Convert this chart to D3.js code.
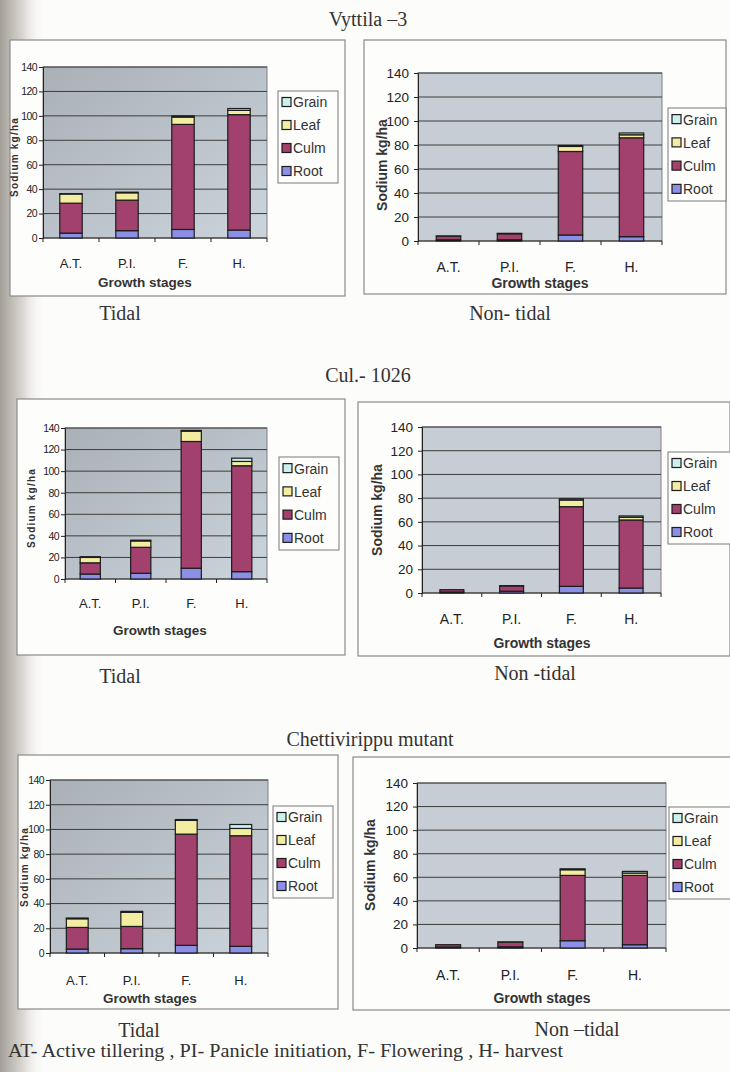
<!DOCTYPE html>
<html>
<head>
<meta charset="utf-8">
<script src="https://cdn.jsdelivr.net/npm/d3@7"></script>
<style>
  body { margin: 0; background: #fcfcfa; }
  svg { display: block; }
</style>
</head>
<body>
<div class="page"></div>
<script>
// Sodium uptake (kg/ha) by plant part across growth stages

var stages = ["A.T.", "P.I.", "F.", "H."];
var parts = ["Root", "Culm", "Leaf", "Grain"];
var yTicks = [0, 20, 40, 60, 80, 100, 120, 140];

// each panel: [root, culm, leaf, grain] per stage (stacked segment sizes)
var vyttilaTidal = [
  [4, 6, 7, 6.5],
  [24.5, 25, 86, 94.5],
  [7.5, 6, 6, 3.5],
  [0.3, 0.5, 1, 1.5]
];
var vyttilaNonTidal = [
  [1, 1, 5, 3.6],
  [3, 5, 69.6, 82.4],
  [0.2, 0.4, 4.2, 2.5],
  [0, 0, 0.8, 1.5]
];
var culTidal = [
  [4.6, 5.3, 10, 6.8],
  [10.4, 24.1, 117.5, 98.2],
  [5, 5.9, 9.5, 4],
  [0.7, 0.7, 0.8, 3]
];
var culNonTidal = [
  [0.8, 1.5, 5.6, 4.2],
  [2, 4.5, 67.2, 57.4],
  [0, 0.2, 5.6, 2.2],
  [0, 0, 1.1, 1.2]
];
var chettiTidal = [
  [3.2, 3.5, 6.2, 5.4],
  [17.5, 18, 90, 89.5],
  [7, 11.4, 11.1, 5.9],
  [0.6, 0.8, 0.7, 3.2]
];
var chettiNonTidal = [
  [0.8, 1, 6.2, 2.8],
  [2, 4, 55.4, 58.8],
  [0, 0.1, 4.8, 2],
  [0, 0, 0.8, 1.4]
];

var colors = {
  Root: "#8b8fe6",
  Culm: "#a2416d",
  Leaf: "#f3eda2",
  Grain: "#c9f1ee"
};

var svgWidth = 730;
var svgHeight = 1072;

var svg = d3.select(".page")
  .append("svg")
  .attr("width", svgWidth)
  .attr("height", svgHeight);

var defs = svg.append("defs");

// scan shadow along the binding edge
var shade = defs.append("linearGradient").attr("id", "shade");
shade.append("stop").attr("offset", "0").attr("stop-color", "#a39e98");
shade.append("stop").attr("offset", "0.5").attr("stop-color", "#d9d6d1");
shade.append("stop").attr("offset", "1").attr("stop-color", "#fcfcfa").attr("stop-opacity", 0);

var plotGrad = defs.append("linearGradient").attr("id", "plotGrad")
  .attr("x1", 0).attr("y1", 0).attr("x2", 1).attr("y2", 1);
plotGrad.append("stop").attr("offset", "0").attr("stop-color", "#a9b0b6");
plotGrad.append("stop").attr("offset", "1").attr("stop-color", "#ccd4dc");

svg.append("rect")
  .attr("x", 0).attr("y", 0)
  .attr("width", 45).attr("height", svgHeight)
  .attr("fill", "url(#shade)");

var serif = "'Liberation Serif', 'Times New Roman', serif";
var sans = "'Liberation Sans', Arial, sans-serif";
var narrow = "'Liberation Sans Narrow', 'Arial Narrow', 'Liberation Sans', sans-serif";

// variety titles
var titles = [
  { text: "Vyttila \u20133", x: 368, y: 26 },
  { text: "Cul.- 1026", x: 368, y: 382 },
  { text: "Chettivirippu mutant", x: 370, y: 746 }
];
svg.selectAll("text.title")
  .data(titles)
  .enter()
  .append("text")
  .attr("class", "title")
  .attr("x", d => d.x)
  .attr("y", d => d.y)
  .attr("text-anchor", "middle")
  .style("font-family", serif)
  .style("font-size", "20px")
  .style("fill", "#333")
  .text(d => d.text);

// panel layout: frame, plot area, legend box and text positions
var panels = [
  { data: vyttilaTidal, small: true,
    frame: [10, 40, 345, 296], plot: [43, 67, 267, 238], legend: [278, 91, 338, 183],
    catY: 268, xTitle: [145, 287], yTitle: [14, 157], caption: ["Tidal", 120, 320] },
  { data: vyttilaNonTidal, small: false,
    frame: [364, 40, 726, 294], plot: [418, 73, 662, 241], legend: [668, 108, 726, 201],
    catY: 272, xTitle: [540, 288], yTitle: [382, 165], caption: ["Non- tidal", 510, 320] },
  { data: culTidal, small: true,
    frame: [17, 399, 345, 655], plot: [65, 428, 267, 579], legend: [279, 457, 339, 550],
    catY: 608, xTitle: [160, 635], yTitle: [31, 508], caption: ["Tidal", 120, 683] },
  { data: culNonTidal, small: false,
    frame: [358, 402, 730, 656], plot: [422, 427, 661, 593], legend: [668, 452, 731, 544],
    catY: 624, xTitle: [542, 648], yTitle: [377, 510], caption: ["Non -tidal", 535, 680] },
  { data: chettiTidal, small: true,
    frame: [18, 755, 338, 1009], plot: [50, 780, 268, 953], legend: [273, 806, 333, 898],
    catY: 985, xTitle: [150, 1003], yTitle: [24, 867], caption: ["Tidal", 139, 1037] },
  { data: chettiNonTidal, small: false,
    frame: [353, 757, 732, 1010], plot: [417, 783, 666, 948], legend: [669, 807, 731, 899],
    catY: 980, xTitle: [542, 1003], yTitle: [370, 865], caption: ["Non \u2013tidal", 577, 1036] }
];

function drawPanel(p) {
  var g = svg.append("g");
  var f = p.frame, pl = p.plot, lg = p.legend;

  // chart frame
  g.append("rect")
    .attr("x", f[0]).attr("y", f[1])
    .attr("width", f[2] - f[0]).attr("height", f[3] - f[1])
    .attr("fill", "#fdfdfc")
    .attr("stroke", "#8a8a8a")
    .attr("stroke-width", 1.2);

  var xScale = d3.scaleBand()
    .domain(stages)
    .range([pl[0], pl[2]])
    .paddingInner(0.6)
    .paddingOuter(0.3);

  var yScale = d3.scaleLinear()
    .domain([0, 140])
    .range([pl[3], pl[1]]);

  // plot area
  g.append("rect")
    .attr("x", pl[0]).attr("y", pl[1])
    .attr("width", pl[2] - pl[0]).attr("height", pl[3] - pl[1])
    .attr("fill", p.small ? "url(#plotGrad)" : "#c6cdd4")
    .attr("stroke", "#808080");

  // gridlines
  g.selectAll("line.grid")
    .data(yTicks.slice(1))
    .enter()
    .append("line")
    .attr("x1", pl[0]).attr("x2", pl[2])
    .attr("y1", d => yScale(d)).attr("y2", d => yScale(d))
    .attr("stroke", "#3c3c3c")
    .attr("stroke-width", 1);

  // y axis
  var leftAxis = d3.axisLeft(yScale)
    .tickValues(yTicks)
    .tickSize(4)
    .tickPadding(p.small ? 2 : 5);
  var yAxis = g.append("g")
    .attr("transform", `translate(${pl[0]}, 0)`)
    .call(leftAxis);
  yAxis.select(".domain").attr("stroke", "#222");
  yAxis.selectAll(".tick line").attr("stroke", "#222");
  yAxis.selectAll("text")
    .style("font-family", p.small ? narrow : sans)
    .style("font-size", p.small ? "10.5px" : "13.5px")
    .style("letter-spacing", p.small ? "-0.6px" : "0px")
    .style("fill", "#222");

  // x axis: baseline with ticks between categories
  var step = xScale.step();
  g.append("line")
    .attr("x1", pl[0]).attr("x2", pl[2])
    .attr("y1", pl[3]).attr("y2", pl[3])
    .attr("stroke", "#222");
  g.selectAll("line.xtick")
    .data(d3.range(stages.length + 1))
    .enter()
    .append("line")
    .attr("x1", i => pl[0] + i * step).attr("x2", i => pl[0] + i * step)
    .attr("y1", pl[3]).attr("y2", pl[3] + 4)
    .attr("stroke", "#222");

  g.selectAll("text.cat")
    .data(stages)
    .enter()
    .append("text")
    .attr("x", d => xScale(d) + xScale.bandwidth() / 2)
    .attr("y", p.catY)
    .attr("text-anchor", "middle")
    .style("font-family", p.small ? narrow : sans)
    .style("font-size", p.small ? "13px" : "14px")
    .style("fill", "#222")
    .text(d => d);

  // stacked bars
  var rows = stages.map(function(s, i) {
    var row = { stage: s };
    parts.forEach(function(part, k) { row[part] = p.data[k][i]; });
    return row;
  });
  var series = d3.stack().keys(parts)(rows);

  g.selectAll("g.series")
    .data(series)
    .enter()
    .append("g")
    .attr("fill", d => colors[d.key])
    .selectAll("rect")
    .data(d => d.filter(v => v[1] - v[0] > 0))
    .enter()
    .append("rect")
    .attr("x", d => xScale(d.data.stage))
    .attr("width", xScale.bandwidth())
    .attr("y", d => yScale(d[1]))
    .attr("height", d => yScale(d[0]) - yScale(d[1]))
    .attr("stroke", "#1c1c1c")
    .attr("stroke-width", 1.2);

  // axis titles
  g.append("text")
    .attr("x", p.xTitle[0])
    .attr("y", p.xTitle[1])
    .attr("text-anchor", "middle")
    .style("font-family", sans)
    .style("font-weight", "bold")
    .style("font-size", p.small ? "13.5px" : "14px")
    .style("fill", "#333")
    .text("Growth stages");

  g.append("text")
    .attr("transform", `translate(${p.yTitle[0]}, ${p.yTitle[1]}) rotate(-90)`)
    .attr("text-anchor", "middle")
    .attr("dy", "0.35em")
    .style("font-family", sans)
    .style("font-weight", "bold")
    .style("font-size", p.small ? "10px" : "14px")
    .style("letter-spacing", p.small ? "1.2px" : "0px")
    .style("fill", "#333")
    .text("Sodium kg/ha");

  // legend
  g.append("rect")
    .attr("x", lg[0]).attr("y", lg[1])
    .attr("width", lg[2] - lg[0]).attr("height", lg[3] - lg[1])
    .attr("fill", "#fdfdfc")
    .attr("stroke", "#7a7a7a");

  var legendOrder = parts.slice().reverse();
  var rowH = (lg[3] - lg[1]) / 4;
  var items = g.selectAll("g.legend-item")
    .data(legendOrder)
    .enter()
    .append("g")
    .attr("transform", (d, i) => `translate(${lg[0] + 4}, ${lg[1] + rowH * (i + 0.5)})`);
  items.append("rect")
    .attr("x", 0).attr("y", -5)
    .attr("width", 9).attr("height", 9)
    .attr("fill", d => colors[d])
    .attr("stroke", "#1c1c1c")
    .attr("stroke-width", 1.2);
  items.append("text")
    .attr("x", 11)
    .attr("y", 0)
    .attr("dy", "0.35em")
    .style("font-family", sans)
    .style("font-size", "14px")
    .style("fill", "#333")
    .text(d => d);

  // caption under the chart
  svg.append("text")
    .attr("x", p.caption[1])
    .attr("y", p.caption[2])
    .attr("text-anchor", "middle")
    .style("font-family", serif)
    .style("font-size", "20px")
    .style("fill", "#333")
    .text(p.caption[0]);
}

panels.forEach(drawPanel);

// footnote with stage abbreviations
svg.append("text")
  .attr("x", 8)
  .attr("y", 1057)
  .attr("textLength", 555)
  .attr("lengthAdjust", "spacingAndGlyphs")
  .style("font-family", serif)
  .style("font-size", "18px")
  .style("fill", "#333")
  .text("AT- Active tillering , PI- Panicle initiation, F- Flowering , H- harvest");
</script>
</body>
</html>
